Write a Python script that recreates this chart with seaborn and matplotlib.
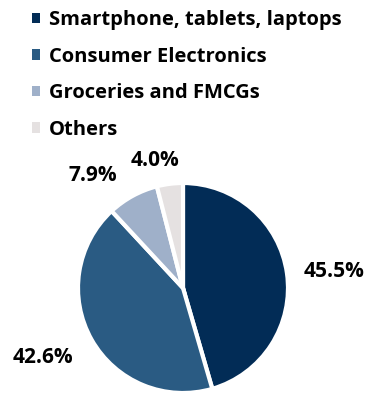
import matplotlib
matplotlib.use("Agg")
import matplotlib.pyplot as plt
import seaborn as sns
import numpy as np

categories = ["Smartphone, tablets, laptops", "Consumer Electronics",
              "Groceries and FMCGs", "Others"]
shares = [45.5, 42.6, 7.9, 4.0]
pct_labels = ["45.5%", "42.6%", "7.9%", "4.0%"]
colors = ["#022C56", "#2A5B83", "#9FB0C9", "#E5E1E1"]

sns.set_theme(style="white")
plt.rcParams['font.family'] = ['Open Sans', 'DejaVu Sans']
plt.rcParams['font.weight'] = 'bold'

W, H = 367, 394
fig = plt.figure(figsize=(W / 100, H / 100), dpi=100)
fig.patch.set_facecolor("white")

cx, cy, r = 183, 288, 105
ax = fig.add_axes([(cx - r) / W, (H - cy - r) / H, 2 * r / W, 2 * r / H])
wedges, _ = ax.pie(shares, colors=colors, startangle=90, counterclock=False,
                   radius=1, wedgeprops=dict(edgecolor="white", linewidth=3))
ax.set_xlim(-1, 1)
ax.set_ylim(-1, 1)
ax.set_aspect("equal")
ax.axis("off")

# label placement (distance in radii, angle offset in degrees)
label_dist = [1.45, 1.49, 1.37, 1.24]
angle_off = [-2, -3, 10, 5]
for w, lab, d, off in zip(wedges, pct_labels, label_dist, angle_off):
    mid = np.deg2rad((w.theta1 + w.theta2) / 2 + off)
    ax.text(d * np.cos(mid), d * np.sin(mid), lab, ha="center", va="center",
            fontsize=15, fontweight="bold", color="black", clip_on=False)

leg = fig.legend(wedges, categories, loc="upper left",
                 bbox_to_anchor=(32 / W, 1 - 10 / H), frameon=False,
                 borderpad=0, borderaxespad=0,
                 fontsize=14.5, handlelength=0.42, handleheight=0.42,
                 handletextpad=0.42, labelspacing=0.82)
for t in leg.get_texts():
    t.set_fontweight("bold")
    t.set_color("black")
for h in leg.legend_handles:
    h.set_edgecolor("none")

fig.savefig("out.png", dpi=100, facecolor="white")
